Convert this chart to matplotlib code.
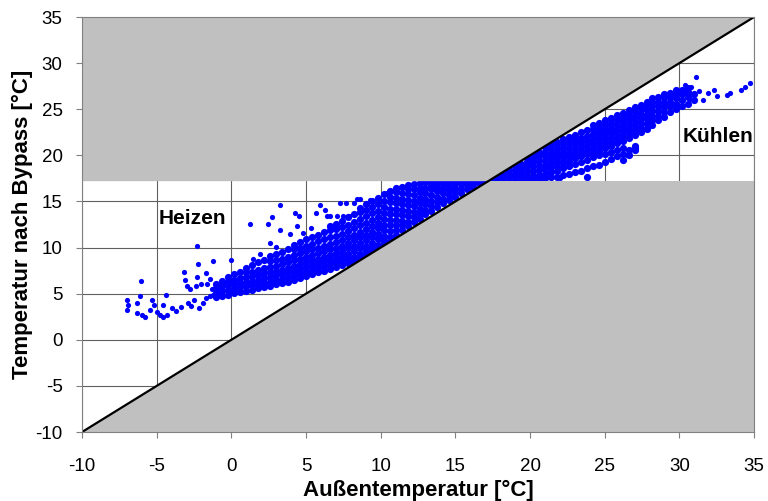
import matplotlib
matplotlib.use("Agg")
import matplotlib.pyplot as plt

plt.rcParams['font.family'] = ['Liberation Sans', 'DejaVu Sans']
plt.rcParams['axes.unicode_minus'] = False

# Grenze Bypass (°C)
t_grenze = 17.2
ticks = [-10, -5, 0, 5, 10, 15, 20, 25, 30, 35]

# Messpunkte Heizfall, nach Außentemperatur gruppiert
heiz_col_x = [-1.0, -0.6, -0.2, 0.2, 0.6, 1.0, 1.4, 1.8, 2.2, 2.6, 3.0, 3.4, 3.8,
              4.2, 4.6, 5.0, 5.4, 5.8, 6.2, 6.6, 7.0, 7.4, 7.8, 8.2, 8.6, 9.0,
              9.4, 9.8, 10.2, 10.6, 11.0, 11.4, 11.8, 12.2, 12.6, 13.0, 13.4,
              13.8, 14.2, 14.6, 15.0, 15.4, 15.8, 16.2, 16.6, 17.0]
heiz_col_y = [
    [4.6, 5.1, 5.6, 6.0],
    [4.8, 5.3, 5.8, 6.4],
    [4.9, 5.4, 5.9, 6.3, 6.8],
    [5.1, 5.5, 6.0, 6.5, 7.1],
    [5.2, 5.7, 6.2, 6.7, 7.4],
    [5.3, 5.8, 6.3, 6.8, 7.3, 7.8],
    [5.4, 5.9, 6.4, 6.9, 7.4, 8.1],
    [5.6, 6.0, 6.5, 7.0, 7.6, 8.4],
    [5.7, 6.2, 6.7, 7.2, 7.8, 8.6],
    [5.8, 6.3, 6.8, 7.3, 7.9, 8.5, 9.1],
    [6.0, 6.5, 7.0, 7.5, 8.0, 8.6, 9.3],
    [6.2, 6.6, 7.1, 7.6, 8.2, 8.8, 9.5],
    [6.3, 6.8, 7.3, 7.8, 8.4, 9.0, 9.8],
    [6.5, 7.0, 7.5, 8.0, 8.6, 9.2, 9.8, 10.3],
    [6.7, 7.2, 7.7, 8.2, 8.8, 9.4, 10.0, 10.6],
    [6.9, 7.4, 7.9, 8.4, 9.0, 9.6, 10.2, 10.9],
    [7.1, 7.6, 8.1, 8.6, 9.2, 9.8, 10.4, 11.1],
    [7.3, 7.8, 8.3, 8.8, 9.4, 10.0, 10.7, 11.4],
    [7.5, 8.0, 8.5, 9.0, 9.6, 10.2, 10.9, 11.7],
    [7.7, 8.2, 8.7, 9.2, 9.8, 10.4, 11.1, 11.9, 12.3],
    [7.9, 8.4, 8.9, 9.4, 10.0, 10.6, 11.3, 12.0, 12.6],
    [8.1, 8.6, 9.1, 9.6, 10.2, 10.8, 11.5, 12.2, 12.9],
    [8.3, 8.8, 9.3, 9.9, 10.5, 11.1, 11.8, 12.5, 13.3],
    [8.5, 9.0, 9.6, 10.2, 10.8, 11.4, 12.1, 12.8, 13.6],
    [8.8, 9.3, 9.9, 10.5, 11.1, 11.7, 12.4, 13.1, 13.9, 14.3],
    [9.1, 9.6, 10.2, 10.8, 11.4, 12.0, 12.7, 13.4, 14.1, 14.7],
    [9.5, 10.0, 10.5, 11.1, 11.7, 12.3, 13.0, 13.7, 14.4, 15.0],
    [9.8, 10.3, 10.9, 11.5, 12.1, 12.7, 13.3, 14.0, 14.7, 15.4],
    [10.2, 10.7, 11.3, 11.9, 12.5, 13.1, 13.7, 14.4, 15.1, 15.8],
    [10.7, 11.2, 11.8, 12.4, 13.0, 13.6, 14.2, 14.9, 15.5, 16.1],
    [11.4, 11.9, 12.4, 13.0, 13.6, 14.2, 14.8, 15.4, 16.0, 16.5],
    [11.9, 12.4, 12.9, 13.5, 14.1, 14.7, 15.3, 15.9, 16.6],
    [12.3, 12.8, 13.4, 14.0, 14.6, 15.2, 15.8, 16.3, 16.8],
    [12.8, 13.3, 13.9, 14.5, 15.1, 15.7, 16.3, 16.9],
    [13.1, 13.6, 14.2, 14.8, 15.4, 16.0, 16.5, 17.0],
    [13.6, 14.1, 14.7, 15.3, 15.9, 16.5, 17.1],
    [14.0, 14.5, 15.1, 15.7, 16.3, 16.8, 17.2],
    [14.4, 14.9, 15.5, 16.1, 16.6, 17.1],
    [14.8, 15.3, 15.9, 16.4, 16.9, 17.2],
    [15.2, 15.7, 16.2, 16.7, 17.2],
    [15.5, 16.0, 16.5, 17.0],
    [15.9, 16.4, 16.9, 17.2],
    [16.3, 16.8, 17.2],
    [16.6, 17.0],
    [17.0, 17.2],
    [17.2],
]

# einzelne Punkte im Heizfall
heiz_einzel = [
    (-7.0, 4.3), (-6.9, 3.8), (-7.0, 3.2), (-6.3, 4.0), (-6.1, 4.7), (-6.3, 2.9),
    (-6.0, 2.7), (-6.05, 6.4), (-5.3, 4.3), (-5.2, 3.8), (-5.45, 3.2), (-5.0, 3.05),
    (-4.8, 2.7), (-4.55, 3.8), (-4.3, 2.7), (-4.4, 4.9), (-4.0, 3.4), (-3.4, 3.6),
    (-2.9, 4.0), (-2.5, 4.3), (-2.2, 3.5), (-1.9, 4.0), (-1.7, 4.5), (-1.4, 4.75),
    (-5.8, 2.5), (-4.6, 2.5), (-3.7, 3.1), (-2.7, 3.7), (-1.2, 4.9),
    (-3.2, 7.4), (-3.1, 6.5), (-3.0, 5.8), (-2.8, 5.5), (-2.4, 5.8), (-2.3, 6.8),
    (-2.0, 6.0), (-1.6, 6.1), (-1.4, 6.6), (-1.3, 5.5), (-1.7, 7.2),
    (-2.3, 10.2), (-2.25, 8.2), (-1.2, 8.5), (0.0, 8.65), (1.47, 8.8),
    (1.25, 12.6), (3.26, 14.6), (2.48, 12.6), (2.7, 13.3), (4.27, 13.7),
    (4.5, 13.4), (4.38, 12.3), (3.26, 11.9), (3.9, 11.5), (2.6, 10.5),
    (5.94, 14.6), (5.7, 13.7), (6.28, 14.1), (6.4, 13.4), (6.6, 13.4),
    (7.06, 13.4), (7.5, 13.4), (7.9, 13.4), (7.3, 14.8), (7.7, 14.8),
    (8.2, 14.8), (8.4, 15.3), (8.6, 15.3), (9.3, 15.2), (10.4, 15.9),
    (11.1, 16.1), (3.0, 10.1), (4.8, 11.6), (5.3, 12.1), (1.9, 9.3),
]

# Messpunkte Kühlfall, nach Außentemperatur gruppiert
kuehl_col_x = [17.4, 17.8, 18.2, 18.6, 19.0, 19.4, 19.8, 20.2, 20.6, 21.0, 21.4,
               21.8, 22.2, 22.6, 23.0, 23.4, 23.8, 24.2, 24.6, 25.0, 25.4, 25.8,
               26.2, 26.6, 27.0, 27.4, 27.8, 28.2, 28.6, 29.0, 29.4, 29.8, 30.2,
               30.6, 31.0]
kuehl_col_y = [
    [17.2, 17.4],
    [17.2, 17.5, 17.8],
    [17.2, 17.6, 18.0, 18.2],
    [17.2, 17.6, 18.0, 18.4],
    [17.2, 17.6, 18.0, 18.4, 18.9],
    [17.2, 17.7, 18.1, 18.6, 19.1],
    [17.3, 17.8, 18.3, 18.8, 19.3, 19.7],
    [17.3, 17.8, 18.3, 18.8, 19.3, 19.7, 20.1],
    [17.4, 17.9, 18.4, 18.9, 19.4, 19.9, 20.4],
    [17.5, 18.0, 18.5, 19.0, 19.5, 20.0, 20.4, 20.9],
    [17.6, 18.2, 18.7, 19.2, 19.7, 20.2, 20.7, 21.2],
    [17.7, 18.3, 18.9, 19.4, 19.9, 20.4, 20.9, 21.5],
    [17.9, 18.6, 19.2, 19.7, 20.2, 20.7, 21.2, 21.8],
    [18.0, 18.8, 19.4, 19.9, 20.4, 20.9, 21.4, 22.0],
    [18.2, 19.1, 19.7, 20.2, 20.7, 21.2, 21.7, 22.2],
    [18.3, 19.3, 19.9, 20.4, 20.9, 21.4, 21.9, 22.5],
    [17.7, 18.6, 19.5, 20.1, 20.6, 21.1, 21.6, 22.1, 22.7],
    [18.8, 19.8, 20.3, 20.8, 21.3, 21.8, 22.3, 22.9, 23.3],
    [19.0, 20.0, 20.5, 21.0, 21.5, 22.0, 22.5, 23.0, 23.5],
    [19.3, 20.2, 20.8, 21.3, 21.8, 22.3, 22.8, 23.3, 23.8],
    [19.6, 20.4, 21.0, 21.5, 22.0, 22.5, 23.0, 23.5, 24.1],
    [19.9, 20.6, 21.3, 21.8, 22.3, 22.8, 23.3, 23.8, 24.4],
    [19.5, 20.2, 20.8, 21.6, 22.1, 22.6, 23.1, 23.6, 24.1, 24.6],
    [20.0, 20.6, 21.9, 22.4, 22.9, 23.4, 23.9, 24.4, 24.9],
    [20.6, 21.0, 22.2, 22.7, 23.2, 23.7, 24.2, 24.7, 25.2],
    [22.5, 23.0, 23.5, 24.0, 24.5, 25.0, 25.5],
    [22.9, 23.4, 23.9, 24.4, 24.9, 25.4, 25.8],
    [23.3, 23.8, 24.3, 24.8, 25.3, 25.8, 26.2],
    [23.8, 24.3, 24.8, 25.3, 25.8, 26.3],
    [24.2, 24.7, 25.2, 25.7, 26.2, 26.6],
    [24.7, 25.3, 25.8, 26.3, 26.8],
    [25.0, 25.6, 26.2, 26.7, 27.1],
    [25.4, 26.0, 26.6, 27.1],
    [25.6, 26.3, 26.9, 27.3],
    [26.0, 26.7],
]

# einzelne Punkte im Kühlfall
kuehl_einzel = [
    (31.1, 28.5), (31.6, 26.0), (31.9, 26.8), (32.3, 27.1), (32.5, 26.4),
    (33.2, 26.5), (33.4, 26.8), (34.1, 27.1), (34.4, 27.4), (34.7, 27.8),
    (30.4, 27.6), (30.8, 27.4), (31.3, 27.0), (30.7, 26.1), (26.9, 20.7),
    (27.1, 20.8), (26.5, 20.0), (26.2, 19.5), (23.8, 17.7), (22.0, 17.5),
]

band_x, band_y = [], []
for cx, cy in zip(heiz_col_x + kuehl_col_x, heiz_col_y + kuehl_col_y):
    for v in cy:
        band_x.append(cx)
        band_y.append(v)
einzel_x = [p[0] for p in heiz_einzel + kuehl_einzel]
einzel_y = [p[1] for p in heiz_einzel + kuehl_einzel]

fig = plt.figure(figsize=(7.68, 5.01), dpi=100)
ax = fig.add_axes([0.1068, 0.1377, 0.875, 0.8283])

lo, hi = ticks[0], ticks[-1]
ax.scatter(band_x, band_y, s=27, color='#0000ff', linewidths=0, zorder=2)
ax.scatter(einzel_x, einzel_y, s=14, color='#0000ff', linewidths=0, zorder=2)

# graue Bereiche (kein Betrieb)
ax.fill([lo, t_grenze, hi, lo], [t_grenze, t_grenze, hi, hi],
        color='#c0c0c0', lw=0, zorder=3)
ax.fill([lo, hi, hi, t_grenze], [lo, lo, t_grenze, t_grenze],
        color='#c0c0c0', lw=0, zorder=3)
ax.plot([lo, hi], [lo, hi], color='black', lw=1.6, zorder=4)

ax.text(-4.9, 13.2, 'Heizen', fontsize=15, fontweight='bold', va='center', zorder=5)
ax.text(30.2, 22.0, 'Kühlen', fontsize=15, fontweight='bold', va='center', zorder=5)

ax.set_xlim(lo, hi)
ax.set_ylim(lo, hi)
ax.set_xticks(ticks)
ax.set_yticks(ticks)
ax.grid(True, color='#606060', lw=0.8)
ax.set_axisbelow(True)
for sp in ax.spines.values():
    sp.set_color('#808080')
    sp.set_linewidth(0.8)
    sp.set_zorder(5)
ax.tick_params(direction='out', length=4, color='#808080', labelsize=13.5)
ax.tick_params(axis='x', pad=15)
ax.tick_params(axis='y', pad=10)

ax.set_xlabel('Außentemperatur [°C]', fontsize=16, fontweight='bold', labelpad=3)
ax.set_ylabel('Temperatur nach Bypass [°C]', fontsize=16, fontweight='bold', labelpad=2)

fig.savefig('out.png', dpi=100)
